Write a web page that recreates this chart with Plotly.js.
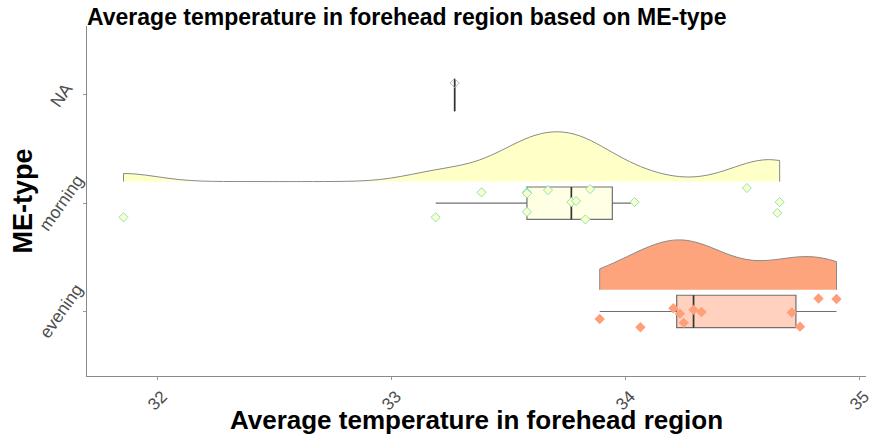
<!DOCTYPE html>
<html><head><meta charset="utf-8">
<script src="https://cdn.plot.ly/plotly-3.0.1.min.js"></script>
<style>html,body{margin:0;padding:0;background:#fff}</style>
</head><body><div id="chart" style="width:873px;height:435px"></div>
<script>
// ---- data ----
const categories = ['evening', 'morning', 'NA'];
const categoryPos = [1, 2, 3];
const eveningTemp = [33.891, 34.065, 34.206, 34.234, 34.250, 34.292, 34.326, 34.712, 34.747, 34.826, 34.903];
const eveningJitter = [-0.07, -0.145, 0.03, -0.02, -0.105, 0.015, -0.005, -0.01, -0.14, 0.12, 0.115];
const morningTemp = [31.856, 33.190, 33.386, 33.580, 33.580, 33.580, 33.670, 33.770, 33.790, 33.830, 33.850, 34.040, 34.520, 34.650, 34.660];
const morningJitter = [-0.13, -0.13, 0.10, 0.10, -0.08, 0.09, 0.12, 0.01, 0.02, -0.15, 0.13, 0.01, 0.14, -0.09, 0.01];
const naTemp = [33.271];
const naJitter = [0.11];
const xTickVals = [32, 33, 34, 35];
const xTickText = ['32', '33', '34', '35'];

// ---- helpers ----
function sorted(a){ return [...a].sort((p,q)=>p-q); }
function q7(a, p){ const s = sorted(a); const h = (s.length-1)*p; const lo = Math.floor(h); const hi = Math.min(lo+1, s.length-1); return s[lo] + (h-lo)*(s[hi]-s[lo]); }
function boxStats(a){
  const q1 = q7(a,0.25), med = q7(a,0.5), q3 = q7(a,0.75), iqr = q3-q1;
  const lf = Math.min(...a.filter(v => v >= q1-1.5*iqr));
  const uf = Math.max(...a.filter(v => v <= q3+1.5*iqr));
  return {q1, med, q3, lf, uf};
}
function nrd0(a){
  const n = a.length, m = a.reduce((s,v)=>s+v,0)/n;
  const sd = Math.sqrt(a.reduce((s,v)=>s+(v-m)*(v-m),0)/(n-1));
  const iqr = q7(a,0.75)-q7(a,0.25);
  return 0.9*Math.min(sd, iqr/1.34)*Math.pow(n,-0.2);
}

const FONT = 'Liberation Sans, Arial, Helvetica, sans-serif';
const BOX_W = 0.3;
const groups = [
  {temp: eveningTemp, jit: eveningJitter, pos: categoryPos[0], violin: '#FDA47D', box: '#FFD1BE', boxLine: '#707070',
   marker: {symbol: 'diamond', size: 8, color: '#FF9F7A', line: {width: 0}}},
  {temp: morningTemp, jit: morningJitter, pos: categoryPos[1], violin: '#FFFFC8', box: '#FFFFE3', boxLine: '#707070',
   marker: {symbol: 'diamond', size: 7, color: '#FFFFC4', line: {width: 1, color: '#86E3CC'}}},
  {temp: naTemp, jit: naJitter, pos: categoryPos[2], violin: null, box: 'rgba(0,0,0,0)', boxLine: '#111111',
   marker: {symbol: 'diamond-open', size: 7, color: '#b8b8b8', line: {width: 1}}}
];

const traces = [];
groups.forEach(g => {
  if (g.violin && g.temp.length > 1) {
    traces.push({type: 'violin', orientation: 'h', x: g.temp, y0: g.pos + 0.2, side: 'positive',
      width: 0.92, scalemode: 'width', spanmode: 'hard', bandwidth: nrd0(g.temp),
      points: false, box: {visible: false}, meanline: {visible: false},
      fillcolor: g.violin, line: {color: '#8a8a8a', width: 1}, hoverinfo: 'skip', showlegend: false});
  }
});
groups.forEach(g => {
  const s = boxStats(g.temp);
  traces.push({type: 'box', orientation: 'h', y: [g.pos], q1: [s.q1], median: [s.med], q3: [s.q3],
    lowerfence: [s.lf], upperfence: [s.uf], width: BOX_W, boxpoints: false,
    fillcolor: g.box, line: {color: g.boxLine, width: 1.2}, whiskerwidth: 0, hoverinfo: 'skip', showlegend: false});
  // darker, thicker median line as in the reference
  traces.push({type: 'scatter', mode: 'lines', x: [s.med, s.med], y: [g.pos - BOX_W/2, g.pos + BOX_W/2],
    line: {color: '#333333', width: 1.6}, hoverinfo: 'skip', showlegend: false});
});
groups.forEach(g => {
  traces.push({type: 'scatter', mode: 'markers', x: g.temp, y: g.temp.map((v,i) => g.pos + g.jit[i]),
    marker: g.marker, hoverinfo: 'skip', showlegend: false});
});

const annotations = categories.map((c,i) => ({xref: 'paper', yref: 'y', x: -0.033, y: categoryPos[i],
  text: c, textangle: -55, showarrow: false, xanchor: 'center', yanchor: 'middle',
  font: {family: FONT, size: 17.5, color: '#4d4d4d'}}));

const layout = {
  width: 873, height: 435,
  margin: {l: 87, r: 7, t: 26, b: 59},
  paper_bgcolor: '#fff', plot_bgcolor: '#fff',
  boxmode: 'overlay', violinmode: 'overlay',
  showlegend: false,
  title: {text: 'Average temperature in forehead region based on ME-type', x: 0, xref: 'paper', xanchor: 'left',
    y: 1 - 17/435, yref: 'container', yanchor: 'middle',
    font: {family: FONT, size: 23, weight: 'bold', color: '#000'}},
  xaxis: {range: [31.70, 35.029], tickvals: xTickVals, ticktext: xTickText, tickangle: -45,
    ticks: 'outside', ticklen: 3, tickcolor: '#999', ticklabelshift: 5, ticklabeloverflow: 'allow',
    showline: true, linecolor: '#8a8a8a', linewidth: 1, showgrid: false, zeroline: false,
    tickfont: {family: FONT, size: 17, color: '#4d4d4d'},
    title: {text: 'Average temperature in forehead region', standoff: 0,
      font: {family: FONT, size: 26, weight: 'bold', color: '#000'}}},
  yaxis: {range: [0.404, 3.637], tickvals: categoryPos, showticklabels: false,
    ticks: 'outside', ticklen: 3, tickcolor: '#999',
    showline: true, linecolor: '#8a8a8a', linewidth: 1, showgrid: false, zeroline: false,
    title: {text: 'ME-type', standoff: 42, font: {family: FONT, size: 27, weight: 'bold', color: '#000'}}},
  annotations: annotations
};

Plotly.newPlot('chart', traces, layout, {displayModeBar: false, staticPlot: true});
</script>
</body></html>
